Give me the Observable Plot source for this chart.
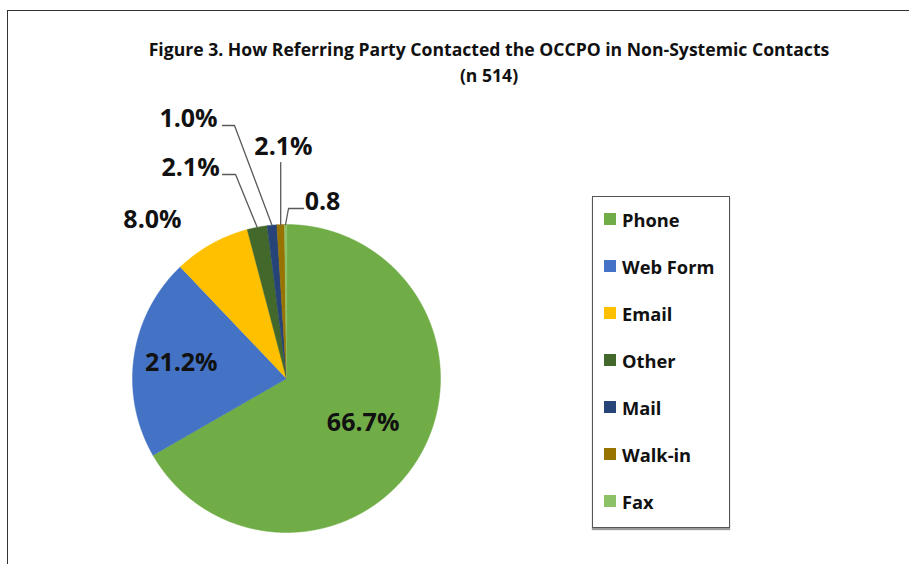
<!DOCTYPE html>
<html>
<head>
<meta charset="utf-8">
<script src="https://cdn.jsdelivr.net/npm/d3@7"></script>
<script src="https://cdn.jsdelivr.net/npm/@observablehq/plot@0.6"></script>
<style>
  html, body { margin: 0; padding: 0; background: #fff; }
  body { width: 909px; height: 564px; overflow: hidden; position: relative; font-family: "Open Sans", Lato, sans-serif; }
  #frame { position: absolute; left: 7px; top: 10px; width: 1000px; height: 1000px; border-left: 1.5px solid #333; border-top: 1.5px solid #333; }
  #title { position: absolute; left: 0; top: 36px; width: 978px; text-align: center; font-weight: bold; font-size: 17.6px; line-height: 26px; color: #111; }
  #chart { position: absolute; left: 0; top: 90px; }
  #legend { position: absolute; left: 592px; top: 196px; width: 136px; height: 330px; border: 1px solid #555; box-shadow: 0 2px 1px #9a9a9a; background: #fff; }
  .item { position: absolute; left: 11px; height: 20px; display: flex; align-items: center; font-weight: bold; font-size: 18.3px; color: #111; white-space: nowrap; }
  .sw { width: 12px; height: 12px; margin-right: 6px; }
</style>
</head>
<body>
<div id="frame"></div>
<div id="title">Figure 3. How Referring Party Contacted the OCCPO in Non-Systemic Contacts<br>(n 514)</div>
<div id="chart"></div>
<div id="legend"></div>
<script>
// ---- data ----
const categories = ["Phone", "Web Form", "Email", "Other", "Mail", "Walk-in", "Fax"];
const shares = [66.7, 21.2, 8.0, 2.1, 1.0, 0.8, 0.2];           // slice sizes (%)
const labels = ["66.7%", "21.2%", "8.0%", "2.1%", "1.0%", "2.1%", "0.8"]; // label text as printed
const colors = ["#70AD47", "#4472C4", "#FFC000", "#43682B", "#264478", "#997300", "#8CC168"];

// ---- layout (styling, not data) ----
const W = 909, H = 474, CX = 286, CY = 288, R = 154;
const labelLayout = [
  {inside: 0.575},
  {inside: 0.69},
  {off: [-59, -24.5]},
  {off: [-66.6, -59.8], leader: [[-21.6, -52.8], [-34.6, -52.8]]},
  {off: [-83.5, -105.7], leader: [[-37.5, -99.7], [-49.5, -99.7]]},
  {off: [2.8, -77.2], leader: [[0, -62]]},
  {off: [37, -23], leader: [[3, -16], [18, -16]]}
];

const arcs = d3.pie().sort(null).value((d, i) => shares[i])(categories);

const slicePts = [];
arcs.forEach(a => {
  const n = Math.max(2, Math.ceil((a.endAngle - a.startAngle) / (Math.PI / 720)));
  slicePts.push({cat: a.data, x: 0, y: 0});
  for (let k = 0; k <= n; k++) {
    const t = a.startAngle + (a.endAngle - a.startAngle) * k / n;
    slicePts.push({cat: a.data, x: Math.sin(t), y: Math.cos(t)});
  }
});

const labelPts = [];
const leaderPts = [];
arcs.forEach((a, i) => {
  const mid = (a.startAngle + a.endAngle) / 2;
  const L = labelLayout[i];
  if (L.inside) {
    labelPts.push({text: labels[i], x: L.inside * Math.sin(mid), y: L.inside * Math.cos(mid)});
  } else {
    const ex = Math.sin(mid), ey = Math.cos(mid);
    labelPts.push({text: labels[i], x: ex + L.off[0] / R, y: ey - L.off[1] / R});
    if (L.leader) {
      leaderPts.push({cat: a.data, x: ex, y: ey});
      L.leader.forEach(p => leaderPts.push({cat: a.data, x: ex + p[0] / R, y: ey - p[1] / R}));
    }
  }
});

const chart = Plot.plot({
  width: W,
  height: H,
  margin: 0,
  x: {domain: [-CX / R, (W - CX) / R], range: [0, W], axis: null},
  y: {domain: [-(H - CY) / R, CY / R], range: [H, 0], axis: null},
  color: {domain: categories, range: colors},
  style: {fontFamily: "'Open Sans', Lato, sans-serif", background: "transparent", overflow: "visible"},
  marks: [
    Plot.line(slicePts, {x: "x", y: "y", z: "cat", fill: "cat", stroke: "cat", strokeWidth: 0.5, curve: "linear-closed"}),
    Plot.line(leaderPts, {x: "x", y: "y", z: "cat", stroke: "#595959", strokeWidth: 1.3}),
    Plot.text(labelPts, {x: "x", y: "y", text: "text", fontSize: 25, fontWeight: "bold", fill: "#111"})
  ]
});
document.getElementById("chart").appendChild(chart);

const color = chart.scale("color");
const legend = document.getElementById("legend");
categories.forEach((c, i) => {
  const item = document.createElement("div");
  item.className = "item";
  item.style.top = (12 + 47 * i) + "px";
  const sw = document.createElement("span");
  sw.className = "sw";
  sw.style.background = color.apply(c);
  const tx = document.createElement("span");
  tx.textContent = c;
  item.appendChild(sw);
  item.appendChild(tx);
  legend.appendChild(item);
});
</script>
</body>
</html>
